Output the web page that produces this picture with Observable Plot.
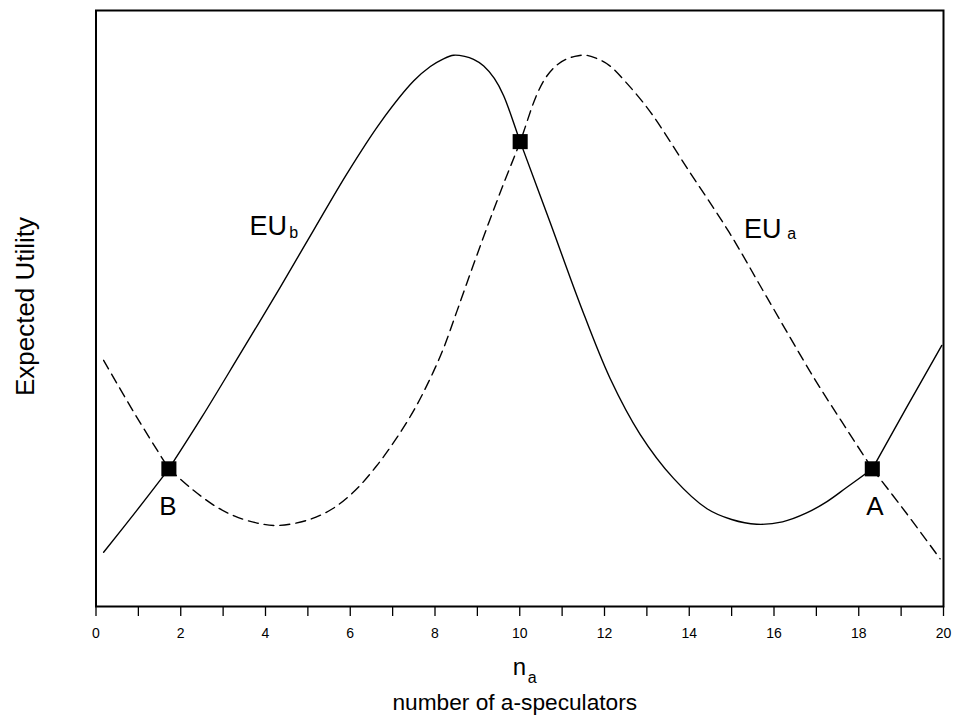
<!DOCTYPE html>
<html><head><meta charset="utf-8">
<script src="https://cdn.jsdelivr.net/npm/d3@7"></script>
<script src="https://cdn.jsdelivr.net/npm/@observablehq/plot@0.6"></script>
<style>body{margin:0;background:#fff} svg{display:block}</style>
</head><body><div id="chart"></div>
<script>
// EU_b (solid curve), read in three pieces (kinks at B and A, where an n value repeats); expected utility in arbitrary units 0-100
const euB_n = [0.18, 0.95, 1.72,
  1.72, 2.50, 3.37, 4.35, 5.14, 5.92, 6.71, 7.50, 7.89, 8.20, 8.44, 8.70, 8.91, 9.15, 9.40, 9.62, 10.01, 10.72, 11.43, 12.13, 12.84, 13.63, 14.42, 15.00, 15.59, 16.20, 16.77, 17.25, 17.72, 18.32,
  18.32, 19.13, 19.96];
const euB_u = [9.1, 16.0, 23.1,
  23.1, 31.8, 42.0, 53.6, 63.2, 72.6, 81.2, 88.2, 90.6, 91.9, 92.5, 92.3, 91.8, 90.7, 88.6, 85.7, 78.0, 64.4, 50.6, 38.3, 28.9, 21.5, 16.4, 14.6, 13.8, 14.2, 15.7, 17.6, 20.0, 23.1,
  23.1, 33.4, 43.8];
// EU_a (dashed curve)
const euA_n = [0.18, 0.95, 1.72,
  1.72, 2.30, 2.80, 3.26, 3.80, 4.30, 5.00, 5.58, 6.12, 6.60, 7.06, 7.50, 7.87, 8.20, 8.52, 8.90, 9.28, 9.65, 10.01, 10.38, 10.60, 10.85, 11.09, 11.30, 11.56, 11.80, 12.11, 12.50, 13.08, 14.00, 14.94, 15.83, 16.93, 17.60, 18.32,
  18.32, 19.13, 19.92];
const euA_u = [41.3, 31.9, 23.1,
  23.1, 19.5, 16.9, 15.2, 14.0, 13.6, 14.5, 16.4, 19.5, 23.4, 27.9, 32.9, 38.0, 43.3, 49.6, 57.2, 64.6, 71.5, 78.0, 85.5, 88.6, 90.7, 91.8, 92.3, 92.5, 92.0, 90.8, 88.0, 83.0, 73.0, 62.8, 51.9, 38.5, 31.0, 23.1,
  23.1, 15.6, 8.0];
// equilibrium markers
const eqN = [1.72, 10.01, 18.32];
const eqU = [23.1, 78.0, 23.1];
// point labels
const ptLabels = ["B", "A"];
const ptN = [1.70, 18.38];
const ptU = [15.3, 15.3];
// curve labels (main text and subscript)
const curveMain = ["EU", "EU"];
const curveMainN = [3.62, 15.29];
const curveMainU = [62.4, 61.9];
const curveSub = ["b", "a"];
const curveSubN = [4.56, 16.31];
const curveSubU = [61.8, 61.7];
// x axis ticks
const xTicks = d3.range(0, 21, 1);
const xTickLabels = xTicks.map(d => d % 2 === 0 ? String(d) : "");

function pieces(ns, us) {
  let s = 0;
  return ns.map((n, i) => {
    if (i > 0 && n === ns[i - 1]) s++;
    return {n, u: us[i], s};
  });
}
const euB = pieces(euB_n, euB_u);
const euA = pieces(euA_n, euA_u);
const eq = eqN.map((n, i) => ({n, u: eqU[i]}));
const pts = ptLabels.map((t, i) => ({t, n: ptN[i], u: ptU[i]}));
const cMain = curveMain.map((t, i) => ({t, n: curveMainN[i], u: curveMainU[i]}));
const cSub = curveSub.map((t, i) => ({t, n: curveSubN[i], u: curveSubU[i]}));

const font = "'Liberation Sans', Arial, Helvetica, sans-serif";

const chart = Plot.plot({
  width: 953, height: 718,
  marginLeft: 95.5, marginRight: 10, marginTop: 10, marginBottom: 112,
  style: {fontFamily: font, background: "white", color: "black"},
  x: {domain: [0, 20]},
  y: {domain: [0, 100], axis: null},
  marks: [
    Plot.axisX({ticks: xTicks, tickFormat: d => xTickLabels[xTicks.indexOf(d)], tickSize: 10, tickPadding: 12, fontSize: 14, label: null, strokeWidth: 1.3}),
    Plot.line(euB, {x: "n", y: "u", z: "s", curve: "catmull-rom", stroke: "black", strokeWidth: 1.4}),
    Plot.line(euA, {x: "n", y: "u", z: "s", curve: "catmull-rom", stroke: "black", strokeWidth: 1.4, strokeDasharray: "10,6"}),
    Plot.dot(eq, {x: "n", y: "u", symbol: "square", r: 8.5, fill: "black", stroke: null}),
    Plot.text(pts, {x: "n", y: "u", text: "t", fontSize: 26, textAnchor: "middle", lineAnchor: "bottom"}),
    Plot.text(cMain, {x: "n", y: "u", text: "t", fontSize: 27, textAnchor: "start", lineAnchor: "bottom"}),
    Plot.text(cSub, {x: "n", y: "u", text: "t", fontSize: 16, textAnchor: "start", lineAnchor: "bottom"}),
    Plot.text(["Expected Utility"], {frameAnchor: "left", rotate: -90, dx: -70, dy: -2, fontSize: 26, textAnchor: "middle", lineAnchor: "middle"}),
    Plot.text(["n"], {frameAnchor: "bottom", dx: -7, dy: 68, fontSize: 24, textAnchor: "start", lineAnchor: "bottom"}),
    Plot.text(["a"], {frameAnchor: "bottom", dx: 8, dy: 76, fontSize: 16, textAnchor: "start", lineAnchor: "bottom"}),
    Plot.text(["number of a-speculators"], {frameAnchor: "bottom", dx: -5, dy: 103, fontSize: 22.7, textAnchor: "middle", lineAnchor: "bottom"}),
    Plot.frame({stroke: "black", strokeWidth: 2})
  ]
});
document.getElementById("chart").appendChild(chart);
</script>
</body></html>
